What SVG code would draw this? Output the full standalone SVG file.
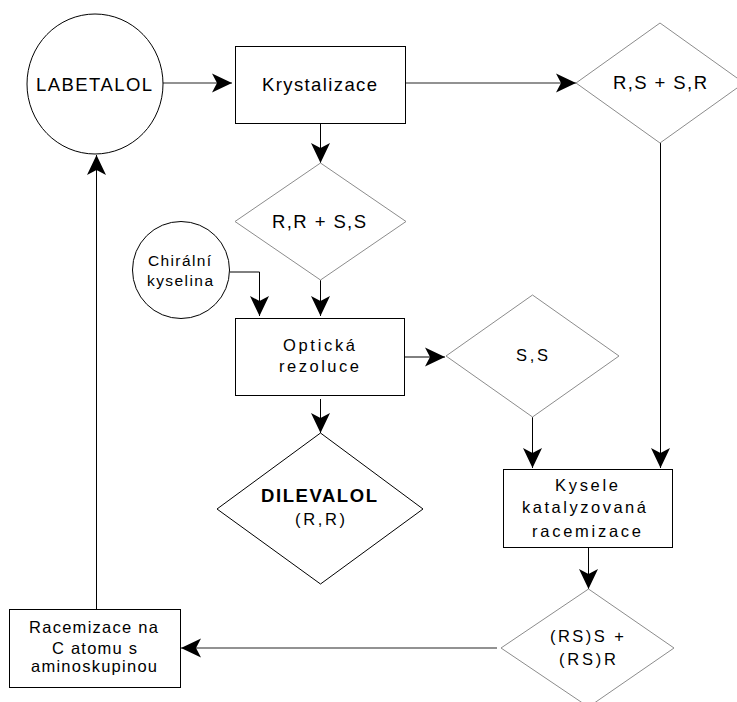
<svg xmlns="http://www.w3.org/2000/svg" width="737" height="702" viewBox="0 0 737 702">
<defs>
<style>
.bg{fill:#fff}
.box{fill:#fff;stroke:#000;stroke-width:1}
.dia{fill:#fff;stroke:#8c8c8c;stroke-width:1}
.diab{fill:#fff;stroke:#000;stroke-width:1}
.c{fill:none;stroke:#000;stroke-width:1}
.ch{fill:none;stroke:#6e6e6e;stroke-width:1.6}
text{font-family:"Liberation Sans",Arial,sans-serif;fill:#000;text-anchor:middle}
.t18{font-size:18.5px}
.t16{font-size:16.5px}
.t15{font-size:15.5px}
.b{font-weight:bold}
</style>
<marker id="ah" markerUnits="userSpaceOnUse" viewBox="-21 -10 22 20" refX="0" refY="0" markerWidth="22" markerHeight="20" orient="auto">
<path d="M0,0 L-20,-9.5 L-15,0 L-20,9.5 Z" fill="#000"/>
</marker>
</defs>
<rect class="bg" x="0" y="0" width="737" height="702"/>

<g id="connectors">
<line class="ch" x1="163" y1="83" x2="232" y2="83" marker-end="url(#ah)"/>
<line class="c" x1="320.5" y1="123" x2="320.5" y2="163" marker-end="url(#ah)"/>
<line class="ch" x1="405" y1="83" x2="576" y2="83" marker-end="url(#ah)"/>
<line class="c" x1="320.5" y1="280" x2="320.5" y2="316" marker-end="url(#ah)"/>
<polyline class="c" points="230,272 259.5,272 259.5,316" marker-end="url(#ah)"/>
<line class="c" x1="404" y1="357" x2="445" y2="357" marker-end="url(#ah)"/>
<line class="c" x1="320.5" y1="399" x2="320.5" y2="433" marker-end="url(#ah)"/>
<line class="c" x1="532.5" y1="417" x2="532.5" y2="468" marker-end="url(#ah)"/>
<line class="c" x1="660.5" y1="143" x2="660.5" y2="468" marker-end="url(#ah)"/>
<line class="c" x1="588.5" y1="548" x2="588.5" y2="589" marker-end="url(#ah)"/>
<line class="ch" x1="497" y1="648" x2="181" y2="648" marker-end="url(#ah)"/>
<line class="c" x1="96.5" y1="609" x2="96.5" y2="155" marker-end="url(#ah)"/>
</g>

<g id="labetalol">
<ellipse class="box" cx="95" cy="84" rx="68" ry="70"/>
<text class="t18" x="94" y="91" textLength="116" lengthAdjust="spacing">LABETALOL</text>
</g>

<g id="krystalizace">
<rect class="box" x="235.5" y="46.5" width="170" height="77"/>
<text class="t18" x="319.5" y="91" textLength="115" lengthAdjust="spacing">Krystalizace</text>
</g>

<g id="rs-sr">
<polygon class="dia" points="576,83 660,23 744,83 660,143"/>
<text class="t18" x="660" y="89" textLength="94" lengthAdjust="spacing">R,S + S,R</text>
</g>

<g id="rr-ss">
<polygon class="dia" points="235,221.5 320.5,163 406,221.5 320.5,280"/>
<text class="t18" x="319" y="228" textLength="94" lengthAdjust="spacing">R,R + S,S</text>
</g>

<g id="chiralni">
<circle class="box" cx="181" cy="270" r="48.5"/>
<text class="t15" x="179.5" y="266" textLength="63" lengthAdjust="spacing">Chirální</text>
<text class="t15" x="180" y="286" textLength="66" lengthAdjust="spacing">kyselina</text>
</g>

<g id="opticka">
<rect class="box" x="235.5" y="318.5" width="169" height="77"/>
<text class="t16" x="319" y="351" textLength="72" lengthAdjust="spacing">Optická</text>
<text class="t16" x="319" y="372" textLength="80" lengthAdjust="spacing">rezoluce</text>
</g>

<g id="ss">
<polygon class="dia" points="446,356 532.5,295 619,356 532.5,417"/>
<text class="t16" x="532" y="361" textLength="32" lengthAdjust="spacing">S,S</text>
</g>

<g id="dilevalol">
<polygon class="diab" points="217,509 320.5,433 423,509 320.5,584"/>
<text class="t18 b" x="319" y="502" textLength="116" lengthAdjust="spacing">DILEVALOL</text>
<text class="t16" x="320" y="525" textLength="50" lengthAdjust="spacing">(R,R)</text>
</g>

<g id="kysele">
<rect class="box" x="503.5" y="469.5" width="169" height="78"/>
<text class="t16" x="586.5" y="491" textLength="63" lengthAdjust="spacing">Kysele</text>
<text class="t16" x="584" y="513" textLength="124" lengthAdjust="spacing">katalyzovaná</text>
<text class="t16" x="586.5" y="537" textLength="109" lengthAdjust="spacing">racemizace</text>
</g>

<g id="rss-rsr">
<polygon class="dia" points="501,648 588.5,589 674,648 588.5,707"/>
<text class="t16" x="587" y="642" textLength="74" lengthAdjust="spacing">(RS)S +</text>
<text class="t16" x="587.5" y="665" textLength="57" lengthAdjust="spacing">(RS)R</text>
</g>

<g id="racemizace-c">
<rect class="box" x="9.5" y="609.5" width="171" height="78"/>
<text class="t16" x="93.5" y="633" textLength="129" lengthAdjust="spacing">Racemizace na</text>
<text class="t16" x="94.5" y="654" textLength="85" lengthAdjust="spacing">C atomu s</text>
<text class="t16" x="94" y="672" textLength="126" lengthAdjust="spacing">aminoskupinou</text>
</g>
</svg>
